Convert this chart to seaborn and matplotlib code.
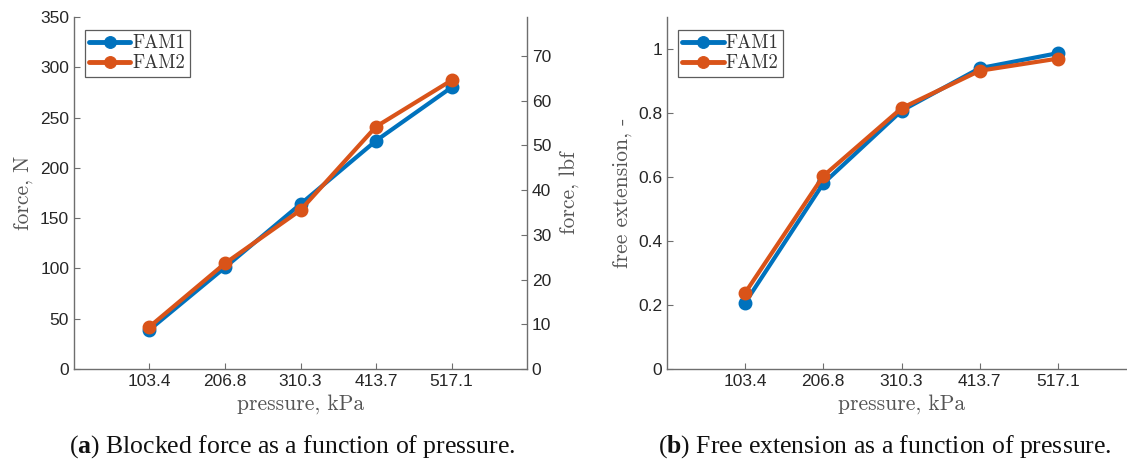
import matplotlib
matplotlib.use("Agg")
import matplotlib.pyplot as plt
import seaborn as sns
import pandas as pd

pressure = [103.4, 206.8, 310.3, 413.7, 517.1]
pressure_labels = ["103.4", "206.8", "310.3", "413.7", "517.1"]
force_fam1 = [39, 101, 164, 227, 280]
force_fam2 = [42, 105, 158, 241, 287]
ext_fam1 = [0.207, 0.580, 0.807, 0.940, 0.987]
ext_fam2 = [0.238, 0.603, 0.815, 0.932, 0.970]
series_names = ["FAM1", "FAM2"]
colors = ["#0072BD", "#D95319"]

sns.set_theme(style="white")
plt.rcParams["font.family"] = ["Liberation Sans", "DejaVu Sans"]
plt.rcParams["mathtext.fontset"] = "custom"
plt.rcParams["mathtext.rm"] = "Liberation Serif"
plt.rcParams["mathtext.bf"] = "Liberation Serif:bold"

W, H = 1127, 472
fig = plt.figure(figsize=(W / 100, H / 100), dpi=100)

spine_c = "#6e6e6e"
tick_c = "#262626"
label_c = "#555555"
serif = "cmr10"


def style_axes(ax):
    ax.spines["top"].set_visible(False)
    ax.spines["right"].set_visible(False)
    for s in ["left", "bottom"]:
        ax.spines[s].set_color(spine_c)
        ax.spines[s].set_linewidth(1.0)
    ax.tick_params(direction="in", length=4, width=0.8, color=spine_c,
                   labelsize=12.5, labelcolor=tick_c, bottom=True, left=True)
    ax.set_xlim(0, 620.5)
    ax.set_xticks(pressure)
    ax.set_xticklabels(pressure_labels)
    ax.set_xlabel("pressure, kPa", fontsize=15.5, family=serif, color=label_c, labelpad=4)


def draw(ax, ys):
    df = pd.DataFrame({
        "pressure": pressure * 2,
        "value": ys[0] + ys[1],
        "series": [series_names[0]] * len(pressure) + [series_names[1]] * len(pressure),
    })
    sns.lineplot(data=df, x="pressure", y="value", hue="series", palette=colors,
                 linewidth=3, ax=ax, legend=True)
    for line, c in zip(ax.lines, colors):
        line.set_marker("o")
        line.set_markersize(8)
        line.set_markerfacecolor(c)
        line.set_markeredgecolor(c)
        line.set_markeredgewidth(2)
    leg = ax.legend(loc="upper left", bbox_to_anchor=(0.015, 0.975), frameon=True,
                    fancybox=False, prop={"family": serif, "size": 13.5},
                    handlelength=2.2, handletextpad=0.1, borderpad=0.25,
                    labelspacing=0.12, borderaxespad=0.2)
    for h, c in zip(leg.get_lines(), colors):
        h.set_marker("o")
        h.set_markersize(8.5)
        h.set_markerfacecolor(c)
        h.set_markeredgecolor(c)
        h.set_linewidth(3.5)
    leg.get_frame().set_edgecolor("#333333")
    leg.get_frame().set_linewidth(0.9)
    for t in leg.get_texts():
        t.set_color("#333333")


# Left panel
ax1 = fig.add_axes([74 / W, (H - 369) / H, 453 / W, 352 / H])
draw(ax1, [force_fam1, force_fam2])
style_axes(ax1)
ax1.set_ylim(0, 350)
ax1.set_yticks([0, 50, 100, 150, 200, 250, 300, 350])
ax1.set_ylabel("force, N", fontsize=15.5, family=serif, color=label_c, labelpad=5)

ax1r = ax1.twinx()
ax1r.set_ylim(0, 350 / 4.44822)
ax1r.set_yticks([0, 10, 20, 30, 40, 50, 60, 70])
ax1r.spines["top"].set_visible(False)
ax1r.spines["left"].set_visible(False)
ax1r.spines["bottom"].set_visible(False)
ax1r.spines["right"].set_color(spine_c)
ax1r.spines["right"].set_linewidth(1.0)
ax1r.tick_params(direction="in", length=4, width=0.8, color=spine_c,
                 labelsize=12.5, labelcolor=tick_c, right=True)
ax1r.set_ylabel("force, lbf", fontsize=15.5, family=serif, color=label_c, labelpad=6)
ax1r.grid(False)

# Right panel
ax2 = fig.add_axes([667 / W, (H - 369) / H, 469 / W, 352 / H])
draw(ax2, [ext_fam1, ext_fam2])
style_axes(ax2)
ax2.set_ylim(0, 1.1)
ax2.set_yticks([0, 0.2, 0.4, 0.6, 0.8, 1.0])
ax2.set_yticklabels(["0", "0.2", "0.4", "0.6", "0.8", "1"])
ax2.set_ylabel("free extension, -", fontsize=15.5, family=serif, color=label_c, labelpad=4)

for ax in (ax1, ax2):
    ax.grid(False)

cap_font = ["Liberation Serif", "DejaVu Serif"]
fig.text(292 / W, 1 - 447 / H, r"($\mathbf{a}$) Blocked force as a function of pressure.",
         ha="center", va="center", fontsize=18.5, family=cap_font, color="#111111")
fig.text(885 / W, 1 - 447 / H, r"($\mathbf{b}$) Free extension as a function of pressure.",
         ha="center", va="center", fontsize=18.5, family=cap_font, color="#111111")

fig.savefig("out.png", dpi=100)
